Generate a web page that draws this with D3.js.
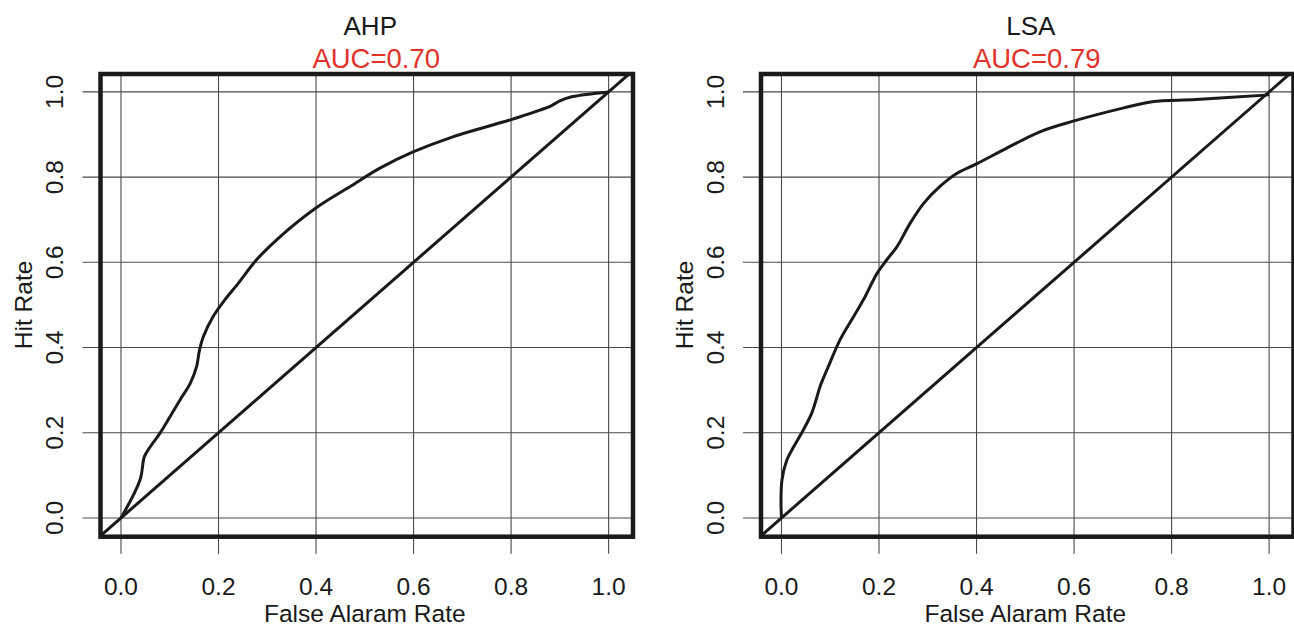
<!DOCTYPE html>
<html>
<head>
<meta charset="utf-8">
<script src="https://d3js.org/d3.v7.min.js"></script>
<style>
  html, body { margin: 0; padding: 0; background: #fff; }
  svg { display: block; font-family: "Liberation Sans", Arial, Helvetica, sans-serif; }
</style>
</head>
<body>
<svg id="chart" width="1294" height="628"></svg>
<script>
// ---- data ----
const xTicks = [0, 0.2, 0.4, 0.6, 0.8, 1.0];
const yTicks = [0, 0.2, 0.4, 0.6, 0.8, 1.0];
const tickLabels = ["0.0", "0.2", "0.4", "0.6", "0.8", "1.0"];
const panelTitles = ["AHP", "LSA"];
const aucLabels = ["AUC=0.70", "AUC=0.79"];
const xAxisTitle = "False Alaram Rate";
const yAxisTitle = "Hit Rate";

const ahpFar = [0, 0.039, 0.048, 0.060, 0.080, 0.121, 0.142, 0.155, 0.161, 0.169, 0.189, 0.213, 0.240, 0.278, 0.326, 0.399, 0.470, 0.531, 0.599, 0.679, 0.8, 0.882, 0.9, 0.926, 1.0];
const ahpHit = [0, 0.089, 0.144, 0.167, 0.199, 0.277, 0.316, 0.355, 0.394, 0.426, 0.473, 0.512, 0.550, 0.606, 0.660, 0.727, 0.778, 0.821, 0.859, 0.894, 0.935, 0.967, 0.979, 0.989, 1.0];

const lsaFar = [0, -0.001, 0.001, 0.011, 0.025, 0.045, 0.062, 0.073, 0.079, 0.096, 0.120, 0.148, 0.168, 0.196, 0.216, 0.237, 0.264, 0.292, 0.325, 0.360, 0.400, 0.462, 0.531, 0.6, 0.7, 0.76, 0.85, 1.0];
const lsaHit = [0, 0.042, 0.089, 0.136, 0.167, 0.207, 0.246, 0.285, 0.308, 0.355, 0.418, 0.473, 0.512, 0.574, 0.606, 0.637, 0.692, 0.739, 0.778, 0.809, 0.831, 0.868, 0.907, 0.932, 0.962, 0.977, 0.982, 0.993];

const panels = [
  { title: panelTitles[0], auc: aucLabels[0], far: ahpFar, hit: ahpHit },
  { title: panelTitles[1], auc: aucLabels[1], far: lsaFar, hit: lsaHit }
];

// ---- layout ----
const svg = d3.select("#chart");
const panelShift = 660.5;
const boxLeft = 100.5, boxRight = 633, boxTop = 74, boxBottom = 536.7;
const xDomain = [-0.042, 1.05], yDomain = [-0.044, 1.042];
const red = "#e2332b";
const ink = "#1a1a1a";

panels.forEach((p, i) => {
  const ox = i * panelShift;
  const x = d3.scaleLinear().domain(xDomain).range([ox + boxLeft, ox + boxRight]);
  const y = d3.scaleLinear().domain(yDomain).range([boxBottom, boxTop]);
  const g = svg.append("g");

  const clipId = "clip" + i;
  g.append("clipPath").attr("id", clipId)
    .append("rect")
    .attr("x", x.range()[0]).attr("y", boxTop)
    .attr("width", x.range()[1] - x.range()[0]).attr("height", boxBottom - boxTop);

  // grid lines inside (+ outward ticks)
  g.selectAll(".vgrid").data(xTicks).join("line")
    .attr("x1", d => x(d)).attr("x2", d => x(d))
    .attr("y1", boxTop).attr("y2", boxBottom + 17)
    .attr("stroke", "#4a4a4a").attr("stroke-width", 1.1);
  g.selectAll(".hgrid").data(yTicks).join("line")
    .attr("x1", x.range()[0] - 18).attr("x2", x.range()[1])
    .attr("y1", d => y(d)).attr("y2", d => y(d))
    .attr("stroke", "#4a4a4a").attr("stroke-width", 1.1);

  // diagonal reference
  g.append("line")
    .attr("clip-path", `url(#${clipId})`)
    .attr("x1", x(-0.2)).attr("y1", y(-0.2))
    .attr("x2", x(1.2)).attr("y2", y(1.2))
    .attr("stroke", ink).attr("stroke-width", 3);

  // ROC curve
  const pts = p.far.map((f, k) => [f, p.hit[k]]);
  const line = d3.line()
    .x(d => x(d[0])).y(d => y(d[1]))
    .curve(d3.curveCatmullRom.alpha(0.5));
  g.append("path")
    .datum(pts)
    .attr("d", line)
    .attr("fill", "none")
    .attr("stroke", ink)
    .attr("stroke-width", 3)
    .attr("stroke-linejoin", "round");

  // box
  g.append("rect")
    .attr("x", x.range()[0]).attr("y", boxTop)
    .attr("width", x.range()[1] - x.range()[0]).attr("height", boxBottom - boxTop)
    .attr("fill", "none").attr("stroke", ink).attr("stroke-width", 4.5);

  // x tick labels
  g.selectAll(".xtl").data(xTicks).join("text")
    .attr("x", d => x(d)).attr("y", 595)
    .attr("text-anchor", "middle")
    .attr("font-size", 24.5).attr("fill", ink)
    .text((d, k) => tickLabels[k]);

  // y tick labels (rotated)
  g.selectAll(".ytl").data(yTicks).join("text")
    .attr("transform", d => `translate(${x.range()[0] - 37.5},${y(d)}) rotate(-90)`)
    .attr("text-anchor", "middle")
    .attr("font-size", 24.5).attr("fill", ink)
    .text((d, k) => tickLabels[k]);

  // axis titles
  g.append("text")
    .attr("x", (x(0) + x(1)) / 2).attr("y", 622)
    .attr("text-anchor", "middle")
    .attr("font-size", 24.5).attr("fill", ink)
    .text(xAxisTitle);
  g.append("text")
    .attr("transform", `translate(${x.range()[0] - 68.5},${y(0.5)}) rotate(-90)`)
    .attr("text-anchor", "middle")
    .attr("font-size", 24.5).attr("fill", ink)
    .text(yAxisTitle);

  // titles
  const cx = (x.range()[0] + x.range()[1]) / 2;
  g.append("text")
    .attr("x", cx + 3.5).attr("y", 35)
    .attr("text-anchor", "middle")
    .attr("font-size", 26).attr("fill", ink)
    .text(p.title);
  g.append("text")
    .attr("x", cx + 9.5).attr("y", 68)
    .attr("text-anchor", "middle")
    .attr("font-size", 27.5).attr("fill", red)
    .text(p.auc);
});
</script>
</body>
</html>
